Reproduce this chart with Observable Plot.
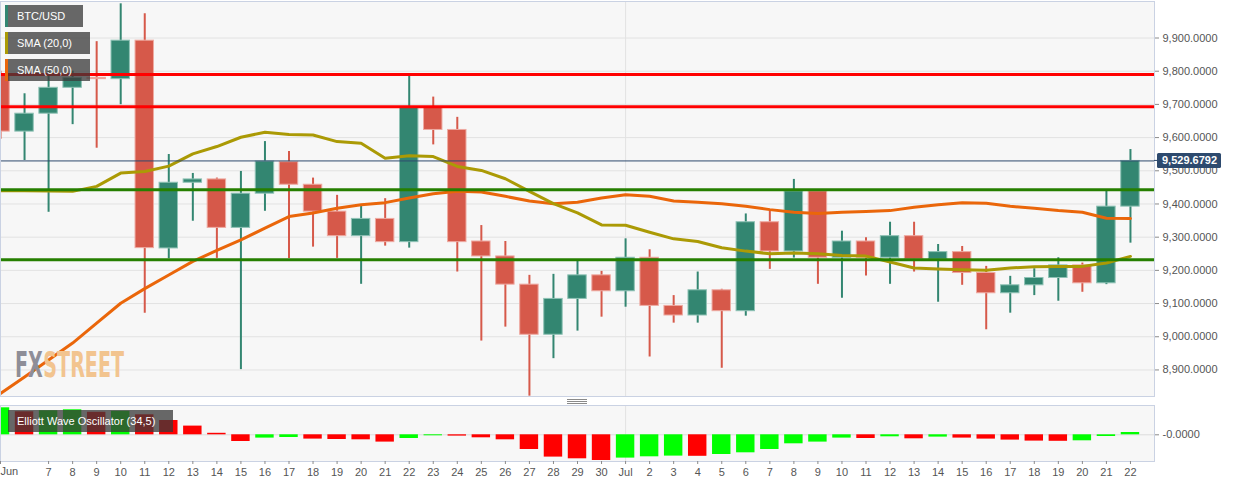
<!DOCTYPE html>
<html>
<head>
<meta charset="utf-8">
<script src="https://cdn.jsdelivr.net/npm/d3@7"></script>
<script src="https://cdn.jsdelivr.net/npm/@observablehq/plot@0.6"></script>
<style>
  body { margin: 0; background: #fff; font-family: "Liberation Sans", Arial, sans-serif; }
  #wrap { position: relative; width: 1244px; height: 487px; overflow: hidden; background: #fff; }
  #wrap svg { position: absolute; left: 0; }
  .leg { position: absolute; background: rgba(58,58,58,0.76); color: #fff; font-size: 11px;
         height: 22px; line-height: 22px; box-sizing: border-box; padding-left: 9px; white-space: nowrap; }
  .grip { position: absolute; left: 567px; width: 20px; height: 1px; background: #8a8a8a; }
</style>
</head>
<body>
<div id="wrap"></div>
<script>
// ---------------- DATA ----------------
const dates = [
  "2020-06-05","2020-06-06","2020-06-07","2020-06-08","2020-06-09","2020-06-10","2020-06-11","2020-06-12",
  "2020-06-13","2020-06-14","2020-06-15","2020-06-16","2020-06-17","2020-06-18","2020-06-19","2020-06-20",
  "2020-06-21","2020-06-22","2020-06-23","2020-06-24","2020-06-25","2020-06-26","2020-06-27","2020-06-28",
  "2020-06-29","2020-06-30","2020-07-01","2020-07-02","2020-07-03","2020-07-04","2020-07-05","2020-07-06",
  "2020-07-07","2020-07-08","2020-07-09","2020-07-10","2020-07-11","2020-07-12","2020-07-13","2020-07-14",
  "2020-07-15","2020-07-16","2020-07-17","2020-07-18","2020-07-19","2020-07-20","2020-07-21","2020-07-22"
];
const open  = [9790,9618,9672,9750,9780,9776,9892,9266,9464,9474,9328,9431,9526,9458,9377,9303,
               9355,9285,9690,9623,9287,9242,9157,9006,9114,9185,9137,9238,9093,9064,9140,9077,
               9345,9257,9438,9238,9287,9238,9303,9233,9255,9192,9131,9155,9177,9215,9161,9392];
const high  = [9800,9732,9800,9800,9889,10003,9973,9549,9492,9478,9498,9588,9558,9478,9426,9395,
               9416,9784,9722,9661,9335,9287,9185,9188,9230,9197,9295,9262,9124,9195,9143,9370,
               9378,9474,9440,9318,9298,9345,9345,9278,9272,9212,9182,9205,9238,9222,9439,9564];
const low   = [9595,9531,9375,9639,9568,9699,9071,9235,9348,9236,8901,9378,9236,9270,9236,9158,
               9273,9267,9578,9195,8987,9029,8821,8934,9017,9059,9089,8939,9041,9041,8905,9062,
               9203,9237,9158,9116,9183,9158,9195,9104,9155,9021,9071,9124,9107,9134,9157,9282];
const close = [9618,9672,9750,9780,9776,9892,9267,9464,9474,9328,9431,9528,9458,9377,9303,9355,
               9285,9690,9623,9285,9242,9157,9006,9114,9185,9137,9238,9093,9064,9140,9077,9345,
               9257,9438,9238,9287,9238,9303,9233,9255,9192,9131,9155,9177,9215,9161,9392,9529.6792];
const sma20 = [9440,9440,9439,9438,9453,9493,9498,9514,9551,9573,9601,9616,9609,9608,9588,9583,
               9538,9545,9543,9513,9501,9476,9438,9401,9373,9337,9336,9315,9295,9287,9268,9258,
               9250,9252,9250,9245,9243,9225,9207,9204,9202,9200,9207,9211,9212,9212,9222,9242];
const sma50 = [8829,8879,8930,8981,9041,9101,9145,9186,9227,9260,9292,9327,9362,9373,9387,9398,
               9404,9418,9431,9438,9436,9423,9409,9401,9405,9418,9428,9423,9409,9405,9401,9393,
               9383,9375,9371,9375,9377,9380,9390,9398,9404,9402,9393,9387,9380,9375,9357,9356];
const ewo   = [270,230,240,250,225,235,200,143,87,15,-67,-33,-27,-43,-47,-50,
               -73,-37,-10,-13,-30,-50,-147,-223,-240,-257,-233,-220,-213,-215,-197,-180,
               -147,-90,-73,-33,-37,-20,-40,-23,-33,-43,-53,-63,-65,-60,-17,23];
const resistance = [9790, 9693];
const support = [9443, 9232];
const priceTicks = [8900,9000,9100,9200,9300,9400,9500,9600,9700,9800,9900];
const ewoTicks = [0];
const ewoTickLabel = "-0.0000";
const monthStarts = ["2020-07-01"];
const firstLabel = "Jun";
const seriesNames = ["BTC/USD", "SMA (20,0)", "SMA (50,0)"];
const oscName = "Elliott Wave Oscillator (34,5)";

// ---------------- BUILD ----------------
const parse = d3.utcParse("%Y-%m-%d");
const rows = dates.map((d, i) => ({
  date: parse(d), open: open[i], high: high[i], low: low[i], close: close[i],
  sma20: sma20[i], sma50: sma50[i], ewo: ewo[i],
  ewoUp: i === 0 ? true : ewo[i] >= ewo[i - 1]
}));
const xDomain = [parse(dates[0]), d3.utcDay.offset(parse(dates[dates.length - 1]), 1)];
const HALF = 9.2; // hours, half body width
const bx1 = d => d3.utcMinute.offset(d.date, -HALF * 60);
const bx2 = d => d3.utcMinute.offset(d.date, HALF * 60);
const UP = "#338671", DOWN = "#d6594a";
const UPB = "#8fc2b5", DOWNB = "#eeaaa2";
const months = monthStarts.map(parse);
const last = close[close.length - 1];
const fmt = d3.format(",.4f");
const FONT = "'Liberation Sans', Arial, sans-serif";

const price = Plot.plot({
  width: 1244, height: 397,
  marginLeft: 0, marginRight: 90, marginTop: 1, marginBottom: 1,
  x: {type: "utc", domain: xDomain, axis: null},
  y: {domain: [8820, 10010], axis: null},
  color: {type: "identity"},
  style: {background: "transparent", fontFamily: FONT, fontSize: "11px", overflow: "visible"},
  marks: [
    Plot.frame({fill: "#f7f7f7", stroke: "none"}),
    Plot.ruleY(priceTicks, {stroke: "#e2e2e2", strokeWidth: 1}),
    Plot.ruleX(months, {stroke: "#e2e2e2", strokeWidth: 1}),
    Plot.ruleX(rows, {x: "date", y1: "low", y2: "high", stroke: d => d.close >= d.open ? UP : DOWN,
      strokeWidth: 2, clip: true, ariaLabel: "wicks"}),
    Plot.rect(rows, {x1: bx1, x2: bx2, y1: "open", y2: "close",
      fill: d => d.close >= d.open ? UP : DOWN, stroke: d => d.close >= d.open ? UPB : DOWNB,
      strokeWidth: 1, clip: true}),
    Plot.lineY(rows, {x: "date", y: "sma50", stroke: "#ea660a", strokeWidth: 3, clip: true}),
    Plot.lineY(rows, {x: "date", y: "sma20", stroke: "#ab9a05", strokeWidth: 3, clip: true}),
    Plot.ruleY(resistance, {stroke: "#ff0000", strokeWidth: 3}),
    Plot.ruleY(support, {stroke: "#267f00", strokeWidth: 3}),
    Plot.ruleY([last], {stroke: "#2d4a6e", strokeWidth: 1}),
    Plot.frame({stroke: "#cad2e3"}),
    Plot.axisY({anchor: "right", ticks: priceTicks, tickFormat: fmt, tickSize: 4, tickPadding: 4,
      label: null, color: "#555", stroke: "#8a8a8a"})
  ]
});
price.style.top = "0px";

// current price label on right axis
{
  const ys = price.scale("y").apply(last);
  const g = d3.select(price).append("g");
  g.append("line").attr("x1", 1154).attr("x2", 1158).attr("y1", ys).attr("y2", ys).attr("stroke", "#2d4a6e");
  g.append("rect").attr("x", 1157).attr("y", ys - 7.5).attr("width", 64).attr("height", 15)
    .attr("rx", 1.5).attr("fill", "#2d4a6e");
  g.append("text").attr("x", 1162).attr("y", ys).attr("dy", "0.36em").attr("fill", "#fff")
    .attr("text-anchor", "start")
    .attr("font-weight", "bold").attr("font-size", 11).attr("font-family", FONT).text(fmt(last));
}

const tickDays = rows.map(d => d.date).filter((d, i) => i !== 1);
const osc = Plot.plot({
  width: 1244, height: 90,
  marginLeft: 0, marginRight: 90, marginTop: 8, marginBottom: 26,
  x: {type: "utc", domain: xDomain, axis: null},
  y: {domain: [-267, 293], axis: null},
  color: {type: "identity"},
  style: {background: "transparent", fontFamily: FONT, fontSize: "11px", overflow: "visible"},
  marks: [
    Plot.frame({fill: "#f7f7f7", stroke: "none"}),
    Plot.ruleY(ewoTicks, {stroke: "#dcdcdc"}),
    Plot.ruleX(months, {stroke: "#e2e2e2"}),
    Plot.rect(rows, {x1: bx1, x2: bx2, y1: 0, y2: "ewo",
      fill: d => d.ewoUp ? "#00ff00" : "#ff0000", clip: true}),
    Plot.frame({stroke: "#cad2e3"}),
    Plot.axisY({anchor: "right", ticks: ewoTicks, tickFormat: () => ewoTickLabel, tickSize: 4, tickPadding: 4,
      label: null, color: "#555", stroke: "#8a8a8a"}),
    Plot.axisX({anchor: "bottom", ticks: tickDays, label: null, tickSize: 3, tickPadding: 4,
      color: "#555", stroke: "#8a8a8a",
      tickFormat: (d, i) => i === 0 ? "" : (d.getUTCDate() === 1 ? d3.utcFormat("%b")(d) : String(d.getUTCDate()))}),
    Plot.text([firstLabel], {x: () => xDomain[0], frameAnchor: "bottom", textAnchor: "start",
      dy: 13, fill: "#555", text: d => d})
  ]
});
osc.style.top = "397px";

const wrap = document.getElementById("wrap");
wrap.appendChild(price);
wrap.appendChild(osc);

// watermark (decoration) placed under candles: two parts, horizontally compressed as a group
{
  const svg = d3.select(price);
  const ref = price.querySelector('g[aria-label="wicks"]');
  const g = svg.insert("g", () => ref)
    .attr("font-family", "'DejaVu Sans Condensed', 'DejaVu Sans', sans-serif")
    .attr("font-weight", "bold").attr("font-size", 36);
  const fx = g.append("text").attr("x", 0).attr("y", 0).attr("text-anchor", "start").attr("fill", "#8e8e98").text("FX");
  const wFX = fx.node().getComputedTextLength();
  const st = g.append("text").attr("x", wFX + 1).attr("y", 0).attr("text-anchor", "start").attr("fill", "#f2c48f").text("STREET");
  const wST = st.node().getComputedTextLength();
  const sx = 109 / (wFX + 1 + wST);
  g.attr("transform", `translate(15,377) scale(${sx},1)`);
}

// grip between panels
[399, 401, 403].forEach(t => {
  const g = document.createElement("div"); g.className = "grip"; g.style.top = t + "px"; wrap.appendChild(g);
});

// legend boxes
const legColors = [UP, "#ab9a05", "#ea660a"];
const legBoxes = [{top: 5, width: 78}, {top: 32, width: 85}, {top: 59, width: 85}];
seriesNames.forEach((name, i) => {
  const el = document.createElement("div");
  el.className = "leg";
  el.style.left = "5px"; el.style.top = legBoxes[i].top + "px"; el.style.width = legBoxes[i].width + "px";
  el.style.borderLeft = "3px solid " + legColors[i];
  el.textContent = name;
  wrap.appendChild(el);
});
{
  const el = document.createElement("div");
  el.className = "leg";
  el.style.left = "8px"; el.style.top = "410px"; el.style.width = "165px"; el.style.paddingLeft = "9px";
  el.textContent = oscName;
  wrap.appendChild(el);
}
</script>
</body>
</html>
